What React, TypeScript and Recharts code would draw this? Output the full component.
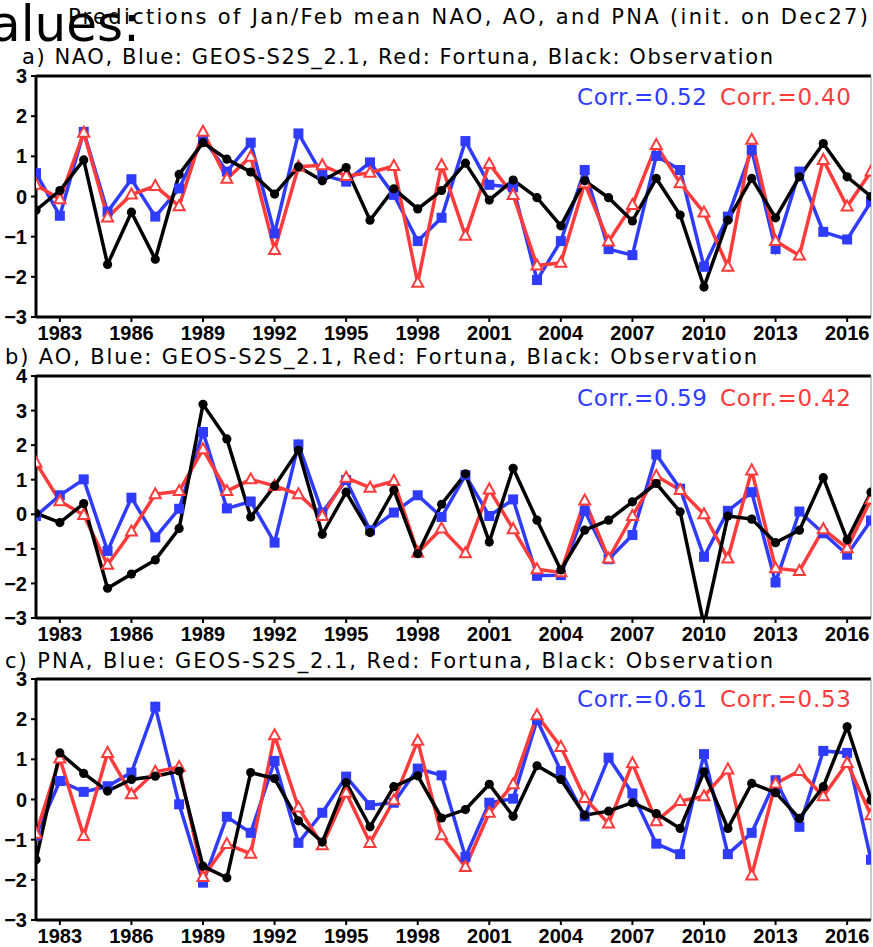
import { LineChart, Line, XAxis, YAxis, ReferenceLine } from "recharts";

const years = [
  1982, 1983, 1984, 1985, 1986, 1987, 1988, 1989, 1990, 1991, 1992, 1993,
  1994, 1995, 1996, 1997, 1998, 1999, 2000, 2001, 2002, 2003, 2004, 2005,
  2006, 2007, 2008, 2009, 2010, 2011, 2012, 2013, 2014, 2015, 2016, 2017,
];
const xTicks = [1983, 1986, 1989, 1992, 1995, 1998, 2001, 2004, 2007, 2010, 2013, 2016];

// NAO
const naoGeos = [
  0.58, -0.48, 1.61, -0.38, 0.43, -0.5, 0.2, 1.45, 0.62, 1.34,
  -0.92, 1.57, 0.54, 0.37, 0.85, 0.04, -1.11, -0.53, 1.38, 0.29,
  0.23, -2.08, -1.11, 0.66, -1.31, -1.46, 1.01, 0.66, -1.75, -0.5,
  1.16, -1.31, 0.62, -0.88, -1.07, -0.13,
];
const naoFortuna = [
  0.29, -0.07, 1.59, -0.52, 0.05, 0.26, -0.24, 1.61, 0.44, 0.99,
  -1.33, 0.74, 0.78, 0.51, 0.59, 0.76, -2.15, 0.78, -0.98, 0.81,
  0.04, -1.72, -1.65, 0.33, -1.12, -0.21, 1.28, 0.33, -0.4, -1.75,
  1.41, -1.11, -1.47, 0.91, -0.25, 0.62,
];
const naoObs = [
  -0.34, 0.15, 0.91, -1.69, -0.39, -1.56, 0.55, 1.34, 0.93, 0.61,
  0.06, 0.74, 0.39, 0.72, -0.59, 0.19, -0.31, 0.15, 0.83, -0.09,
  0.41, -0.03, -0.73, 0.39, -0.03, -0.61, 0.45, -0.46, -2.25, -0.59,
  0.45, -0.53, 0.49, 1.32, 0.49, 0.0,
];

// AO
const aoGeos = [
  -0.05, 0.55, 1.01, -1.06, 0.48, -0.67, 0.16, 2.38, 0.17, 0.37,
  -0.82, 2.02, 0.05, 0.99, -0.46, 0.05, 0.55, -0.08, 1.13, -0.05,
  0.43, -1.78, -1.76, 0.1, -1.3, -0.6, 1.73, 0.74, -1.23, 0.1,
  0.64, -1.97, 0.08, -0.55, -1.17, -0.18,
];
const aoFortuna = [
  1.49, 0.38, -0.02, -1.46, -0.5, 0.58, 0.67, 1.88, 0.67, 1.01,
  0.82, 0.58, -0.05, 1.06, 0.77, 0.96, -1.11, -0.41, -1.13, 0.72,
  -0.43, -1.59, -1.68, 0.4, -1.28, -0.05, 1.11, 0.7, 0.0, -1.28,
  1.27, -1.56, -1.64, -0.43, -0.98, 0.43,
];
const aoObs = [
  0.03, -0.24, 0.31, -2.14, -1.73, -1.32, -0.41, 3.18, 2.18, -0.08,
  0.82, 1.85, -0.58, 0.64, -0.53, 0.7, -1.14, 0.29, 1.17, -0.8,
  1.33, -0.17, -1.61, -0.46, -0.17, 0.36, 0.89, 0.07, -3.2, -0.05,
  -0.14, -0.82, -0.46, 1.06, -0.74, 0.64,
];

// PNA
const pnaGeos = [
  -0.9, 0.46, 0.19, 0.33, 0.67, 2.31, -0.12, -2.07, -0.43, -0.83,
  0.96, -1.08, -0.33, 0.57, -0.14, -0.08, 0.77, 0.6, -1.43, -0.08,
  0.02, 1.98, 0.71, -0.42, 1.04, 0.15, -1.1, -1.36, 1.13, -1.36,
  -0.83, 0.48, -0.68, 1.21, 1.16, -1.5,
];
const pnaFortuna = [
  -0.85, 1.02, -0.91, 1.16, 0.13, 0.69, 0.81, -1.93, -1.11, -1.35,
  1.6, -0.2, -1.14, 0.17, -1.08, -0.02, 1.46, -0.89, -1.68, -0.33,
  0.38, 2.1, 1.31, 0.04, -0.6, 0.9, -0.54, -0.04, 0.08, 0.75,
  -1.89, 0.4, 0.71, 0.08, 0.91, -0.39,
];
const pnaObs = [
  -1.5, 1.16, 0.65, 0.21, 0.5, 0.58, 0.71, -1.66, -1.95, 0.67,
  0.52, -0.53, -1.06, 0.42, -0.68, 0.32, 0.59, -0.46, -0.25, 0.38,
  -0.42, 0.84, 0.5, -0.39, -0.29, -0.08, -0.35, -0.72, 0.69, -0.72,
  0.4, 0.17, -0.47, 0.32, 1.81, -0.02,
];

const BLUE = "#2f3cff";
const RED = "#ff3b3b";
const TITLE_FONT = "'DejaVu Sans', sans-serif";

const buildRows = (geos: number[], fortuna: number[], obs: number[]) =>
  years.map((year, i) => ({ year, geos: geos[i], fortuna: fortuna[i], obs: obs[i] }));

const fmtY = (v: number) => (v < 0 ? "\u2212" + Math.abs(v) : String(v));

const Square = (p: any) => {
  if (p.cx == null || p.cy == null) return null;
  return <rect key={`sq-${p.index}`} x={p.cx - 5} y={p.cy - 5} width={10} height={10} fill={BLUE} />;
};
const Tri = (p: any) => {
  if (p.cx == null || p.cy == null) return null;
  const { cx, cy } = p;
  return (
    <polygon
      key={`tr-${p.index}`}
      points={`${cx},${cy - 6} ${cx - 5.5},${cy + 4} ${cx + 5.5},${cy + 4}`}
      fill="#fff"
      stroke={RED}
      strokeWidth={2}
    />
  );
};
const Dot = (p: any) => {
  if (p.cx == null || p.cy == null) return null;
  return <circle key={`ci-${p.index}`} cx={p.cx} cy={p.cy} r={4.6} fill="#000" />;
};

const tickStyle = { fontFamily: "'Liberation Sans', Arial, sans-serif", fontWeight: 700, fontSize: 20, fill: "#000" };

function Panel({
  top, height, marginTop, rows, yMin, yMax,
}: {
  top: number; height: number; marginTop: number;
  rows: any[]; yMin: number; yMax: number;
}) {
  const yTicks: number[] = [];
  for (let v = yMin; v <= yMax; v++) yTicks.push(v);
  return (
    <div style={{ position: "absolute", left: 0, top, width: 873, height }}>
      <LineChart width={873} height={height} data={rows} margin={{ top: marginTop, right: 2, left: 0, bottom: 0 }}>
        <XAxis
          dataKey="year"
          type="number"
          domain={[1982, 2017]}
          ticks={xTicks}
          allowDataOverflow
          height={28}
          tickSize={5}
          tickMargin={4}
          tick={tickStyle}
          axisLine={{ stroke: "#000", strokeWidth: 3 }}
          tickLine={{ stroke: "#000", strokeWidth: 2 }}
        />
        <YAxis
          type="number"
          domain={[yMin, yMax]}
          ticks={yTicks}
          allowDataOverflow
          width={36}
          tickSize={5}
          tickMargin={4}
          tickFormatter={fmtY}
          tick={tickStyle}
          axisLine={{ stroke: "#000", strokeWidth: 3 }}
          tickLine={{ stroke: "#000", strokeWidth: 2 }}
        />
        <ReferenceLine y={yMax} stroke="#000" strokeWidth={3} />
        <ReferenceLine x={2017} stroke="#999" strokeWidth={1} />
        <Line dataKey="geos" stroke={BLUE} strokeWidth={3.5} dot={Square} isAnimationActive={false} />
        <Line dataKey="fortuna" stroke={RED} strokeWidth={3.5} dot={Tri} isAnimationActive={false} />
        <Line dataKey="obs" stroke="#000" strokeWidth={3.5} dot={Dot} isAnimationActive={false} />
      </LineChart>
    </div>
  );
}

const panelTitles = [
  { text: "a) NAO, Blue: GEOS-S2S_2.1, Red: Fortuna, Black: Observation", x: 22, y: 64, len: 751 },
  { text: "b) AO, Blue: GEOS-S2S_2.1, Red: Fortuna, Black: Observation", x: 5, y: 364, len: 752 },
  { text: "c) PNA, Blue: GEOS-S2S_2.1, Red: Fortuna, Black: Observation", x: 5, y: 668, len: 768 },
];
const corrs = [
  { geos: "Corr.=0.52", fortuna: "Corr.=0.40", y: 105 },
  { geos: "Corr.=0.59", fortuna: "Corr.=0.42", y: 406 },
  { geos: "Corr.=0.61", fortuna: "Corr.=0.53", y: 707 },
];

export default function App() {
  return (
    <div style={{ position: "absolute", left: 0, top: 0, width: 873, height: 947, background: "#fff", overflow: "hidden" }}>
      <Panel top={0} height={345} marginTop={76} rows={buildRows(naoGeos, naoFortuna, naoObs)} yMin={-3} yMax={3} />
      <Panel top={350} height={296} marginTop={26} rows={buildRows(aoGeos, aoFortuna, aoObs)} yMin={-3} yMax={4} />
      <Panel top={650} height={298} marginTop={29} rows={buildRows(pnaGeos, pnaFortuna, pnaObs)} yMin={-3} yMax={3} />
      <svg width={873} height={947} style={{ position: "absolute", left: 0, top: 0, pointerEvents: "none" }}>
        <text x={-10} y={41} fontFamily={TITLE_FONT} fontSize={50} fill="#000">alues:</text>
        <text x={68} y={24} fontFamily={TITLE_FONT} fontSize={21} fill="#000" textLength={800} lengthAdjust="spacing">
          Predictions of Jan/Feb mean NAO, AO, and PNA (init. on Dec27)
        </text>
        {panelTitles.map((t) => (
          <text key={t.text} x={t.x} y={t.y} fontFamily={TITLE_FONT} fontSize={21} fill="#000" textLength={t.len} lengthAdjust="spacing">
            {t.text}
          </text>
        ))}
        {corrs.map((c) => (
          <g key={c.geos + c.y}>
            <text x={577} y={c.y} fontFamily={TITLE_FONT} fontSize={23} fill={BLUE} textLength={130} lengthAdjust="spacing">{c.geos}</text>
            <text x={720} y={c.y} fontFamily={TITLE_FONT} fontSize={23} fill={RED} textLength={131} lengthAdjust="spacing">{c.fortuna}</text>
          </g>
        ))}
      </svg>
    </div>
  );
}
